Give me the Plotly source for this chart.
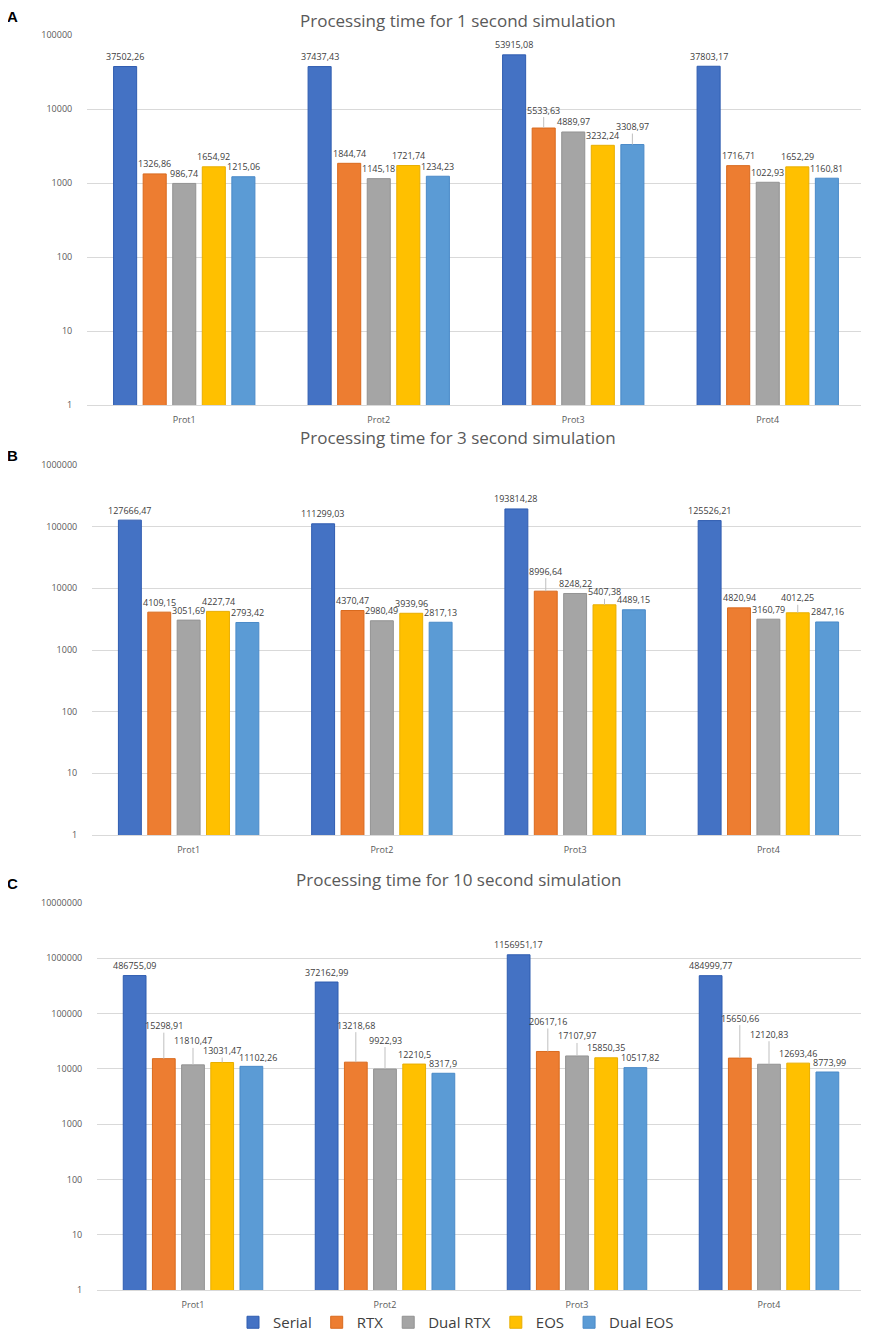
import math
import plotly.graph_objects as go

# Categories and series
categories = ["Prot1", "Prot2", "Prot3", "Prot4"]
series_names = ["Serial", "RTX", "Dual RTX", "EOS", "Dual EOS"]

# 1 second simulation
serial_1s = [37502.26, 37437.43, 53915.08, 37803.17]
rtx_1s = [1326.86, 1844.74, 5533.63, 1716.71]
dual_rtx_1s = [986.74, 1145.18, 4889.97, 1022.93]
eos_1s = [1654.92, 1721.74, 3232.24, 1652.29]
dual_eos_1s = [1215.06, 1234.23, 3308.97, 1160.81]

# 3 second simulation
serial_3s = [127666.47, 111299.03, 193814.28, 125526.21]
rtx_3s = [4109.15, 4370.47, 8996.64, 4820.94]
dual_rtx_3s = [3051.69, 2980.49, 8248.22, 3160.79]
eos_3s = [4227.74, 3939.96, 5407.38, 4012.25]
dual_eos_3s = [2793.42, 2817.13, 4489.15, 2847.16]

# 10 second simulation
serial_10s = [486755.09, 372162.99, 1156951.17, 484999.77]
rtx_10s = [15298.91, 13218.68, 20617.16, 15650.66]
dual_rtx_10s = [11810.47, 9922.93, 17107.97, 12120.83]
eos_10s = [13031.47, 12210.5, 15850.35, 12693.46]
dual_eos_10s = [11102.26, 8317.9, 10517.82, 8773.99]

titles = ["Processing time for 1 second simulation",
          "Processing time for 3 second simulation",
          "Processing time for 10 second simulation"]
panel_letters = ["A", "B", "C"]
tick_values = [1, 10, 100, 1000, 10000, 100000, 1000000, 10000000]
tick_labels = ["1", "10", "100", "1000", "10000", "100000", "1000000", "10000000"]

panels = [
    [serial_1s, rtx_1s, dual_rtx_1s, eos_1s, dual_eos_1s],
    [serial_3s, rtx_3s, dual_rtx_3s, eos_3s, dual_eos_3s],
    [serial_10s, rtx_10s, dual_rtx_10s, eos_10s, dual_eos_10s],
]

# styling
colors = ["#4472C4", "#ED7D31", "#A5A5A5", "#FFC000", "#5B9BD5"]
edges = ["#2F5CB0", "#D96A1E", "#939393", "#E8AE00", "#4A8AC8"]

# the page body has an 8px margin, so the figure is laid out 8px up/left
OFF = 8
W, H = 869 - OFF, 1339 - OFF


def px(x):
    return (x - OFF) / W


def py(y):
    return 1 - (y - OFF) / H


# screen layout of each plot area: (left, top, bottom, decades)
areas = [(87, 35, 405, 5), (92, 465, 835, 6), (97, 903, 1290, 7)]
right = 865
bargap = 0.24

# label lift above bar top in px (per panel, series, category)
lifts = [
    [[10] * 4, [10, 10, 18, 10], [10] * 4, [10] * 4, [10, 10, 18, 10]],
    [[10] * 4, [10, 10, 20, 10], [10] * 4, [10, 10, 13, 15], [10] * 4],
    [[10] * 4, [33, 37, 30, 40], [24, 29, 20, 30], [12, 10, 10, 10], [9, 10, 10, 10]],
]
# sideways nudge of a few labels (px), panel C dual EOS
nudges = {(2, 4, 0): 7, (2, 4, 2): 5, (2, 4, 3): 2}

fig = go.Figure()
annotations = []
slot = (1 - bargap) / len(series_names)

for p, data in enumerate(panels):
    left, top, bottom, dec = areas[p]
    xa = "x" if p == 0 else "x%d" % (p + 1)
    ya = "y" if p == 0 else "y%d" % (p + 1)
    for s, vals in enumerate(data):
        fig.add_trace(go.Bar(
            x=categories, y=vals, name=series_names[s],
            marker=dict(color=colors[s], line=dict(color=edges[s], width=1)),
            xaxis=xa, yaxis=ya, showlegend=(p == 0),
            legendrank=s,
        ))
        for c, v in enumerate(vals):
            lift = lifts[p][s][c]
            annotations.append(dict(
                x=c + (s - 2) * slot, y=math.log10(v), xref=xa, yref=ya,
                text=str(v).replace(".", ","), showarrow=True, arrowhead=0,
                arrowwidth=1, ax=0, ay=-lift, standoff=0,
                xshift=nudges.get((p, s, c), 0),
                arrowcolor="#BFBFBF" if lift >= 12 else "rgba(0,0,0,0)",
                font=dict(size=9, color="#404040", family="Open Sans"),
                borderpad=0,
            ))
    ax_key = "xaxis" if p == 0 else "xaxis%d" % (p + 1)
    ay_key = "yaxis" if p == 0 else "yaxis%d" % (p + 1)
    fig.layout[ax_key] = dict(
        domain=[px(left), px(right)], anchor=ya, type="category",
        showline=True, linecolor="#D9D9D9", linewidth=1,
        ticks="outside", ticklen=6, tickcolor="rgba(0,0,0,0)",
        tickfont=dict(size=9, color="#595959", family="Open Sans"),
        showgrid=False, automargin=False,
    )
    fig.layout[ay_key] = dict(
        domain=[py(bottom), py(top)], anchor=xa, type="log",
        range=[0, dec], tickvals=tick_values[:dec + 1], ticktext=tick_labels[:dec + 1],
        gridcolor="#D9D9D9", gridwidth=1, showline=False, zeroline=False,
        ticks="outside", ticklen=12, tickcolor="rgba(0,0,0,0)",
        tickfont=dict(size=9, color="#595959", family="Open Sans"),
        automargin=False,
    )

# titles and panel letters (top title kept inside the figure edge)
title_y = [20, 437, 879]
letter_y = [16, 455, 883]
for p in range(3):
    annotations.append(dict(
        x=px(458), y=py(title_y[p]), xref="paper", yref="paper",
        text=titles[p], showarrow=False, xanchor="center", yanchor="middle",
        font=dict(size=17, color="#595959", family="Open Sans"),
    ))
    annotations.append(dict(
        x=px(12), y=py(letter_y[p]), xref="paper", yref="paper",
        text="<b>%s</b>" % panel_letters[p], showarrow=False,
        xanchor="center", yanchor="middle",
        font=dict(size=15, color="#000000", family="Liberation Sans"),
    ))

fig.update_layout(
    width=W, height=H, margin=dict(l=0, r=0, t=0, b=0),
    plot_bgcolor="white", paper_bgcolor="white",
    barmode="group", bargap=bargap, bargroupgap=0.22,
    annotations=annotations,
    legend=dict(orientation="h", x=px(456), xanchor="center",
                y=0, yanchor="bottom", bgcolor="rgba(0,0,0,0)",
                font=dict(size=15, color="#404040", family="Open Sans"),
                itemwidth=30, traceorder="normal"),
)

fig.write_html("out.html")
